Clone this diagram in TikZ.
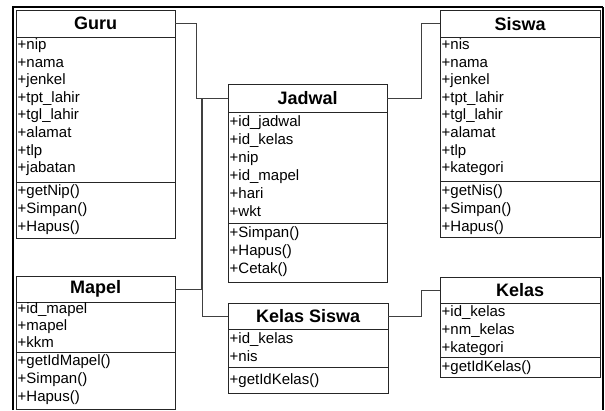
\documentclass[tikz,border=0pt]{standalone}
\usepackage{fontspec}
\setmainfont{Liberation Sans}
\tikzset{
  boxline/.style={draw=black!85, line width=0.8pt},
  headnode/.style={inner sep=0pt, font=\fontsize{18}{21}\selectfont\bfseries},
  rowtext/.style={inner sep=0pt, font=\fontsize{15}{18}\selectfont},
  conn/.style={draw=black!75, line width=0.8pt},
  frameline/.style={draw=black, line width=2pt}
}
% class box: name, left, right, top, header bottom, attribute bottom, bottom, title
\newcommand\classbox[8]{%
  \node[headnode, minimum width={#3-#2}, minimum height={#5-#4}, anchor=north west] (#1) at (#2,#4) {#8};
  \draw[boxline] (#2,#4) rectangle (#3,#7);
  \draw[boxline] (#2,#5) -- (#3,#5) (#2,#6) -- (#3,#6);
}
% text rows: name prefix, x, first baseline, step, list
\newcommand\classrows[5]{%
  \foreach \txt [count=\k from 0] in {#5} {
    \node[rowtext, anchor=base west] (#1\k) at (#2, {#3+#4*\k}) {\txt};
  }
}
\begin{document}
\begin{tikzpicture}[x=1pt, y=-1pt]
\useasboundingbox (0,0) rectangle (605,410);

% outer frame
\draw[frameline] (13,410) -- (13,7) -- (603,7);
\draw[draw=black, line width=1.5pt] (603,7) -- (603,410);

% Guru
\classbox{guru}{16}{175}{10}{37}{182}{238}{Guru}
\classrows{guruA}{17.5}{49.5}{17.6}{+nip,+nama,+jenkel,+tpt\_lahir,+tgl\_lahir,+alamat,+tlp,+jabatan}
\classrows{guruM}{17.5}{195.5}{18}{+getNip(),+Simpan(),+Hapus()}

% Siswa
\classbox{siswa}{440}{600}{10}{37}{181}{237}{Siswa}
\classrows{siswaA}{441.5}{49.5}{17.6}{+nis,+nama,+jenkel,+tpt\_lahir,+tgl\_lahir,+alamat,+tlp,+kategori}
\classrows{siswaM}{441.5}{195}{18}{+getNis(),+Simpan(),+Hapus()}

% Jadwal
\classbox{jadwal}{228}{387}{84}{112}{223}{282}{Jadwal}
\classrows{jadwalA}{229.5}{126.5}{18}{+id\_jadwal,+id\_kelas,+nip,+id\_mapel,+hari,+wkt}
\classrows{jadwalM}{229.5}{237}{18}{+Simpan(),+Hapus(),+Cetak()}

% Mapel
\classbox{mapel}{16}{175}{276}{302}{352}{409}{Mapel}
\classrows{mapelA}{17.5}{313.5}{16.8}{+id\_mapel,+mapel,+kkm}
\classrows{mapelM}{17.5}{365.5}{18}{+getIdMapel(),+Simpan(),+Hapus()}

% Kelas Siswa
\classbox{kelassiswa}{228}{388}{303}{329}{367}{393}{Kelas Siswa}
\classrows{kelassiswaA}{229.5}{343}{18}{+id\_kelas,+nis}
\classrows{kelassiswaM}{229.5}{384}{18}{+getIdKelas()}

% Kelas
\classbox{kelas}{440}{600}{277}{303}{357}{377}{Kelas}
\classrows{kelasA}{441.5}{316.5}{18}{+id\_kelas,+nm\_kelas,+kategori}
\classrows{kelasM}{441.5}{371}{18}{+getIdKelas()}

% associations
\draw[conn] (guru.east) -| ([xshift=-32pt]jadwal.west) -- (jadwal.west);
\draw[conn] (jadwal.east) -| ([xshift=-19pt]siswa.west) -- (siswa.west);
\draw[conn] (mapel.east) -| ([xshift=-26.5pt]jadwal.west) -- (jadwal.west);
\draw[conn] (kelassiswa.west) -| ([xshift=-25.5pt]jadwal.west) -- (jadwal.west);
\draw[conn] (kelassiswa.east) -| ([xshift=-19pt]kelas.west) -- (kelas.west);
\end{tikzpicture}
\end{document}
